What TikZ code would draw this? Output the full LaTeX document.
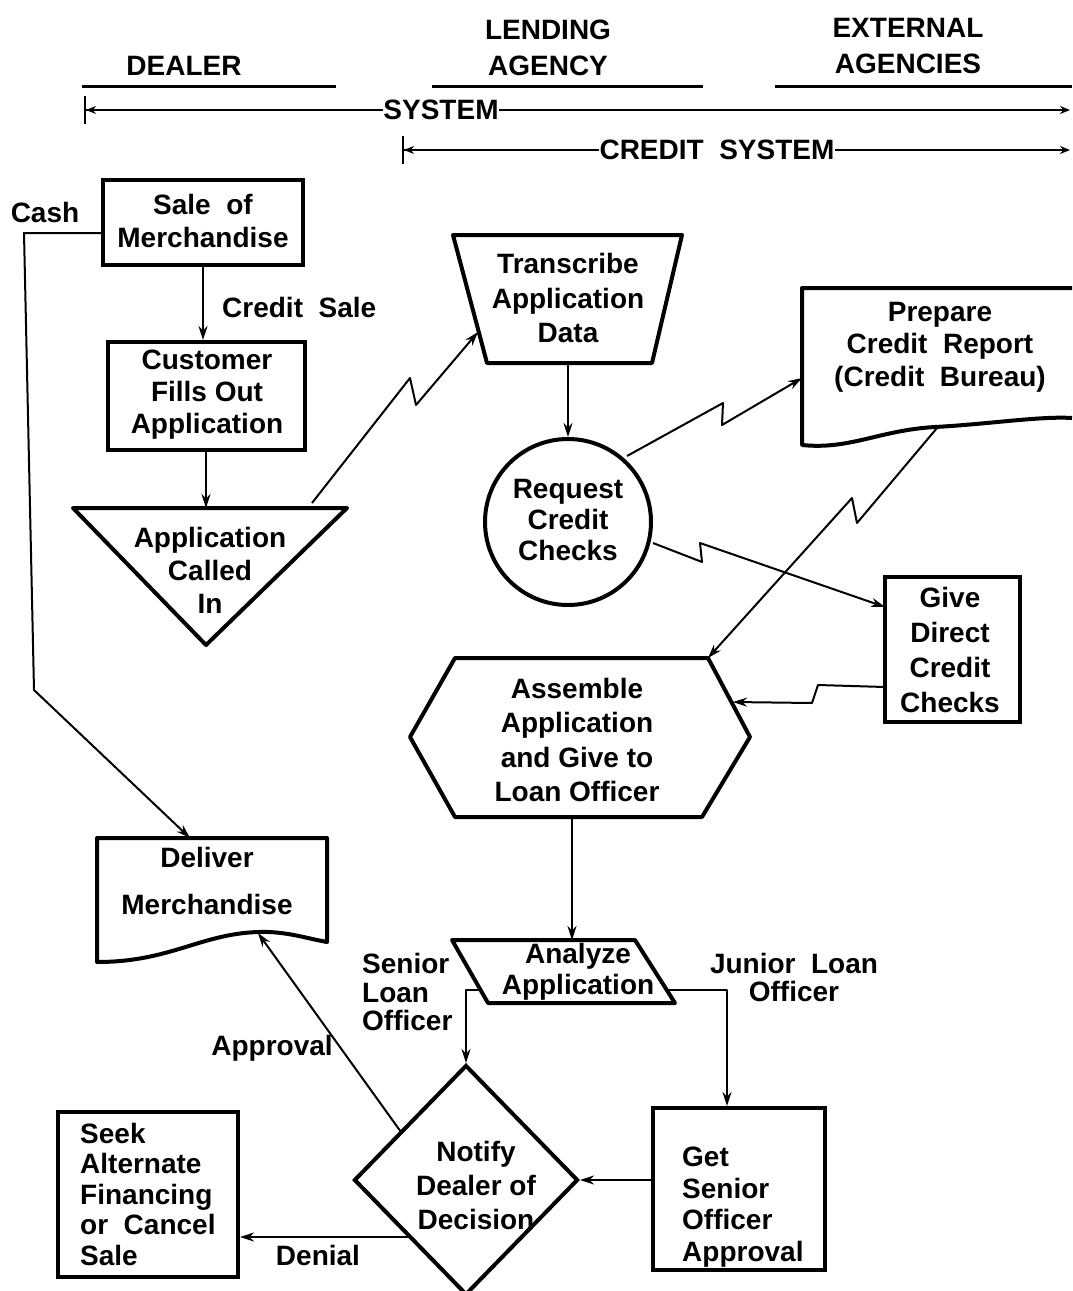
\documentclass[tikz,border=0pt]{standalone}
\usepackage{fontspec}
\setmainfont{Liberation Sans}
\usetikzlibrary{arrows.meta,shapes.geometric}
\begin{document}
\begin{tikzpicture}[x=1pt,y=-1pt,
  txt/.style={font=\bfseries\fontsize{28}{33}\selectfont, inner sep=0pt, align=center},
  lbl/.style={txt, align=left},
  outline/.style={line width=4pt, line join=round},
  boxnode/.style={draw, line width=4pt, inner sep=0pt},
  conn/.style={line width=2pt, line join=round, -{Stealth[length=14pt,width=9pt]}},
  rule/.style={line width=3pt},
  span/.style={line width=2pt, {Bar[width=28pt]Stealth[length=10pt,width=8pt]}-},
  spanend/.style={line width=2pt, -{Stealth[length=10pt,width=8pt]}},
]
\useasboundingbox (0,0) rectangle (1072,1291);

% ---------- column headings ----------
\node[txt] (hdealer) at (184,66) {DEALER};
\node[txt, font=\bfseries\fontsize{28}{36}\selectfont] (hlend) at (548,48) {LENDING\\AGENCY};
\node[txt, font=\bfseries\fontsize{28}{36}\selectfont] (hext) at (908,46) {EXTERNAL\\AGENCIES};
\draw[rule] (82,86) -- (336,86);
\draw[rule] (432,86) -- (703,86);
\draw[rule] (775,86) -- (1072,86);

% ---------- system spans ----------
\node[txt] (sys) at (441,110) {SYSTEM};
\coordinate (sysL) at (84,110);
\coordinate (sysR) at (1070,110);
\draw[span] (sysL) -- (sys.west);
\draw[spanend] (sys.east) -- (sysR);

\node[txt] (csys) at (717,150) {CREDIT\ \ SYSTEM};
\coordinate (csysL) at (402,150);
\coordinate (csysR) at (1070,150);
\draw[span] (csysL) -- (csys.west);
\draw[spanend] (csys.east) -- (csysR);

% ---------- dealer column ----------
\node[boxnode, minimum width=200pt, minimum height=85pt] (sale) at (203,222.5) {};
\node[txt] (saletxt) at (203,221) {Sale\ \ of\\Merchandise};

\node[boxnode, minimum width=197pt, minimum height=108pt] (cust) at (206,396) {};
\node[txt, font=\bfseries\fontsize{28}{32}\selectfont] (custtxt) at (207,395) {Customer\\Fills\ Out\\Application};

\draw[conn] (sale.south) -- (sale.south |- cust.north);
\node[txt, anchor=west] (lcredit) at (222,307) {Credit\ \ Sale};

% application called in (triangle)
\coordinate (triL) at (73,508);
\coordinate (triR) at (347,508);
\coordinate (triB) at (206,645);
\coordinate (triT) at (206,508);
\draw[outline] (triL) -- (triR) -- (triB) -- cycle;
\node[txt] (tritxt) at (210,570) {Application\\Called\\In};
\draw[conn] (cust.south) -- (triT);

% deliver merchandise (document)
\coordinate (delT) at (190,838);
\coordinate (delB) at (258,933);
\draw[outline] (97,838) -- (327,838) -- (327,942)
  .. controls (305,938) and (285,931) .. (258,932)
  .. controls (200,934) and (170,962) .. (97,962) -- cycle;
\node[txt, font=\bfseries\fontsize{28}{47}\selectfont] (deltxt) at (207,881) {Deliver\\Merchandise};

% cash path
\node[txt] (lcash) at (45,212) {Cash};
\coordinate (cash1) at (24,233);
\coordinate (cash2) at (34,690);
\draw[conn] (sale.west |- cash1) -- (cash1) -- (cash2) -- (delT);

% seek alternate financing
\node[boxnode, minimum width=180pt, minimum height=165pt] (seek) at (148,1194.5) {};
\node[lbl, font=\bfseries\fontsize{28}{30.5}\selectfont, anchor=west] (seektxt) at (80,1194) {Seek\\Alternate\\Financing\\or\ \ Cancel\\Sale};

% ---------- lending agency ----------
% transcribe (trapezoid)
\coordinate (trTL) at (453,235);
\coordinate (trTR) at (682,235);
\coordinate (trBR) at (652,363);
\coordinate (trBL) at (487,363);
\coordinate (trIn) at (478,332);
\coordinate (trB) at (568,363);
\draw[outline] (trTL) -- (trTR) -- (trBR) -- (trBL) -- cycle;
\node[txt, font=\bfseries\fontsize{28}{34.5}\selectfont] (trtxt) at (568,298) {Transcribe\\Application\\Data};

% zigzag: application called in -> transcribe
\coordinate (z1a) at (312,503);
\coordinate (z1b) at (410,378);
\coordinate (z1c) at (416,405);
\draw[conn] (z1a) -- (z1b) -- (z1c) -- (trIn);

% request credit checks (circle)
\node[circle, draw, line width=4pt, minimum size=166pt, inner sep=0pt] (req) at (568,522) {};
\node[txt, font=\bfseries\fontsize{28}{31}\selectfont] (reqtxt) at (568,520) {Request\\Credit\\Checks};
\draw[conn] (trB) -- (req.north);

% assemble application (hexagon)
\coordinate (hxTL) at (455,658);
\coordinate (hxTR) at (708,658);
\coordinate (hxR) at (750,737);
\coordinate (hxBR) at (702,817);
\coordinate (hxBL) at (455,817);
\coordinate (hxL) at (410,737);
\coordinate (hxIn) at (733,702);
\coordinate (hxB) at (572,817);
\draw[outline] (hxTL) -- (hxTR) -- (hxR) -- (hxBR) -- (hxBL) -- (hxL) -- cycle;
\node[txt, font=\bfseries\fontsize{28}{34.5}\selectfont] (hxtxt) at (577,740) {Assemble\\Application\\and\ Give\ to\\Loan\ Officer};

% analyze application (parallelogram)
\coordinate (anTL) at (452,940);
\coordinate (anTR) at (635,940);
\coordinate (anBR) at (675,1003);
\coordinate (anBL) at (488,1003);
\coordinate (anT) at (572,940);
\coordinate (anL) at (480,990);
\coordinate (anR) at (667,990);
\draw[outline] (anTL) -- (anTR) -- (anBR) -- (anBL) -- cycle;
\node[txt, font=\bfseries\fontsize{28}{31}\selectfont] (antxt) at (578,972) {Analyze\\Application};
\draw[conn] (hxB) -- (anT);

% notify dealer (diamond)
\node[diamond, draw, line width=4pt, minimum width=224pt, minimum height=230pt, inner sep=0pt] (notify) at (466,1180) {};
\node[txt, font=\bfseries\fontsize{28}{34}\selectfont] (notifytxt) at (476,1185) {Notify\\Dealer\ of\\Decision};

% get senior officer approval
\node[boxnode, minimum width=172pt, minimum height=162pt] (getsen) at (739,1189) {};
\node[lbl, font=\bfseries\fontsize{28}{31.5}\selectfont, anchor=west] (getsentxt) at (682,1207) {Get\\Senior\\Officer\\Approval};

% decision routing
\coordinate (senC) at (466,990);
\coordinate (junC) at (727,990);
\draw[conn] (anL) -- (senC) -- (notify.north);
\draw[conn] (anR) -- (junC) -- (junC |- getsen.north);
\node[lbl, font=\bfseries\fontsize{28}{28.5}\selectfont, anchor=west] (lsen) at (362,992) {Senior\\Loan\\Officer};
\node[txt, font=\bfseries\fontsize{28}{28}\selectfont] (ljun) at (794,977) {Junior\ \ Loan\\Officer};

\draw[conn] (getsen.west |- notify.east) -- (notify.east);

% approval / denial
\coordinate (apS) at (401,1132);
\coordinate (dnS) at (409,1237);
\draw[conn] (apS) -- (delB);
\draw[conn] (dnS) -- (seek.east |- dnS);
\node[txt] (lapp) at (272,1048) {Approval};
\node[txt] (lden) at (318,1255) {Denial};

% ---------- external agencies ----------
% prepare credit report (document)
\coordinate (prL) at (802,378);
\coordinate (prB) at (937,428);
\draw[outline] (1072,288) -- (802,288) -- (802,445)
  .. controls (850,450) and (880,430) .. (935,427)
  .. controls (990,424) and (1040,416) .. (1072,418);
\node[txt, font=\bfseries\fontsize{28}{32.5}\selectfont] (prtxt) at (940,347) {Prepare\\Credit\ \ Report\\(Credit\ \ Bureau)};

% give direct credit checks
\node[boxnode, minimum width=135pt, minimum height=145pt] (give) at (952.5,649.5) {};
\node[txt, font=\bfseries\fontsize{28}{35}\selectfont] (givetxt) at (950,650) {Give\\Direct\\Credit\\Checks};
\coordinate (gvIn) at (885,607);
\coordinate (gvOut) at (885,687);

% zigzag: request -> prepare report
\coordinate (z2a) at (627,456);
\coordinate (z2b) at (723,403);
\coordinate (z2c) at (722,425);
\draw[conn] (z2a) -- (z2b) -- (z2c) -- (prL);

% zigzag: prepare report -> assemble
\coordinate (z3b) at (857,523);
\coordinate (z3c) at (852,498);
\draw[conn] (prB) -- (z3b) -- (z3c) -- (hxTR);

% zigzag: request -> give direct checks
\coordinate (z4a) at (653,543);
\coordinate (z4b) at (702,562);
\coordinate (z4c) at (700,543);
\draw[conn] (z4a) -- (z4b) -- (z4c) -- (gvIn);

% zigzag: give direct checks -> assemble
\coordinate (z5b) at (818,685);
\coordinate (z5c) at (812,703);
\draw[conn] (gvOut) -- (z5b) -- (z5c) -- (hxIn);

\end{tikzpicture}
\end{document}
